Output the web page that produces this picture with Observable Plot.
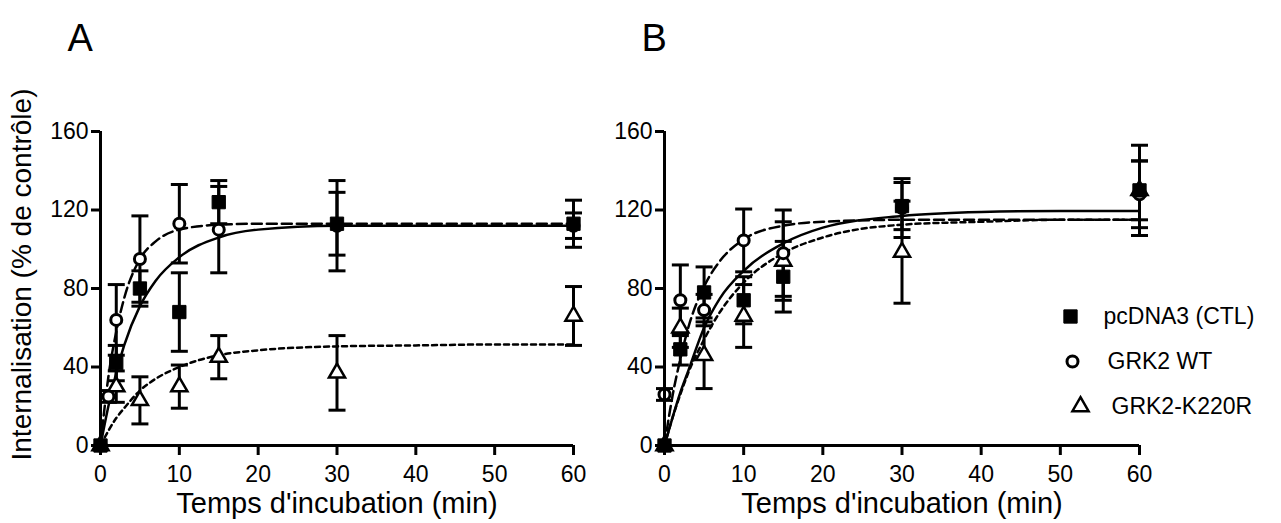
<!DOCTYPE html>
<html><head><meta charset="utf-8">
<script src="https://cdn.jsdelivr.net/npm/d3@7"></script>
<script src="https://cdn.jsdelivr.net/npm/@observablehq/plot@0.6"></script>
<style>
body{margin:0;background:#fff;}
#wrap{position:relative;width:1281px;height:523px;overflow:hidden;background:#fff;font-family:"Liberation Sans",Arial,sans-serif;}
.panel{position:absolute;top:0;}
.panel svg{display:block;overflow:visible;background:transparent;}
</style></head><body><div id="wrap"><div id="pa" class="panel" style="left:0px"></div><div id="pb" class="panel" style="left:610px"></div></div>
<script>
// ---- labels ----
const seriesNames = ["pcDNA3 (CTL)", "GRK2 WT", "GRK2-K220R"];
const xTicks = [0, 10, 20, 30, 40, 50, 60];
const yTicks = [0, 40, 80, 120, 160];
const xTitle = "Temps d'incubation (min)";
const yTitle = "Internalisation (% de contrôle)";
const panelLetters = ["A", "B"];

// ---- panel A data (mean, SEM) ----
const tA_ctl = [0, 2, 5, 10, 15, 30, 60];
const mA_ctl = [0, 42, 80, 68, 124, 113, 113];
const sA_ctl = [0, 9, 9, 20, 11, 16, 12];
const tA_wt = [0, 1, 2, 5, 10, 15, 30, 60];
const mA_wt = [0, 25, 64, 95, 113, 110, 112, 112];
const sA_wt = [0, 3, 18, 22, 20, 22, 23, 6.5];
const tA_k = [0, 2, 5, 10, 15, 30, 60];
const mA_k = [0, 30, 23, 30, 45, 37, 66];
const sA_k = [0, 8, 12, 11, 11, 19, 15];

// ---- panel B data (mean, SEM) ----
const tB_ctl = [0, 2, 5, 10, 15, 30, 60];
const mB_ctl = [0, 49, 78, 74, 86, 122, 130];
const sB_ctl = [0, 8, 13, 12, 18, 12, 23];
const tB_wt = [0, 2, 5, 10, 15, 30, 60];
const mB_wt = [26, 74, 69, 104.5, 98, 121, 128];
const sB_wt = [3, 18, 8, 16, 22, 15, 17];
const tB_k = [0, 2, 5, 10, 15, 30, 60];
const mB_k = [0, 60, 46, 66, 94, 98.5, 130];
const sB_k = [0, 10, 17, 16, 20, 26, 15];

// ---- fitted curves ----
const fitT = [0, 1, 2, 3, 5, 7, 10, 15, 20, 30, 40, 50, 60];
const fitA_ctl = [0, 20, 37, 51, 71, 84, 96, 106, 110, 112, 112, 112, 112];
const fitA_wt = [0, 35, 58, 75, 95, 104, 110, 112.5, 113, 113, 113, 113, 113];
const fitA_k = [0, 7.5, 14, 19, 28, 34, 40, 46, 48.5, 50.5, 51, 51.5, 51.5];
const fitB_ctl = [0, 14, 27, 38, 60, 75, 89, 103, 111, 117, 119, 119.5, 119.5];
const fitB_wt = [0, 25, 44, 60, 81, 94, 105, 112, 114, 115, 115, 115, 115];
const fitB_k = [0, 14, 26, 37, 54, 68, 83, 98, 106, 112.5, 114, 115, 115];

const FONT = "'Liberation Sans', Arial, sans-serif";
const capSymbol = {draw(context, size) { const w = Math.sqrt(size / Math.PI); context.moveTo(-w, 0); context.lineTo(w, 0); }};
const rows = (t, m, s) => t.map((ti, i) => ({t: ti, m: m[i], s: s[i]}));
const curveRows = v => fitT.map((t, i) => ({t, v: v[i]}));
const dashes = [null, "10,5", "5,4"];
const markStyle = [
  {symbol: "square", r: 7.5, fill: "black", stroke: "black", strokeWidth: 1},
  {symbol: "circle", r: 5.5, fill: "white", stroke: "black", strokeWidth: 3},
  {symbol: "triangle", r: 6, fill: "white", stroke: "black", strokeWidth: 2.5}
];

function errMarks(data) {
  const d = data.filter(r => r.s > 0);
  return [
    Plot.ruleX(d, {x: "t", y1: r => r.m - r.s, y2: r => r.m + r.s, stroke: "black", strokeWidth: 3}),
    Plot.dot(d, {x: "t", y: r => r.m + r.s, symbol: capSymbol, r: 8.5, stroke: "black", strokeWidth: 3, fill: "none"}),
    Plot.dot(d, {x: "t", y: r => r.m - r.s, symbol: capSymbol, r: 8.5, stroke: "black", strokeWidth: 3, fill: "none"})
  ];
}

function panel({width, marginLeft, marginRight, series, fits, letter, letterDx, showYTitle, legend}) {
  const marks = [];
  fits.forEach((f, i) => marks.push(Plot.line(curveRows(f), {x: "t", y: "v", curve: "monotone-x", stroke: "black", strokeWidth: 2.5, strokeDasharray: dashes[i]})));
  series.forEach(s => marks.push(...errMarks(s)));
  [2, 1, 0].forEach(i => marks.push(Plot.dot(series[i], {x: "t", y: "m", ...markStyle[i]})));
  marks.push(
    Plot.axisY({ticks: yTicks, tickSize: 9, tickPadding: 3, fontSize: 23, strokeWidth: 3, label: null}),
    Plot.axisX({ticks: xTicks, tickSize: 10, tickPadding: 10, fontSize: 23, strokeWidth: 3, label: null}),
    Plot.ruleX([0], {strokeWidth: 3}),
    Plot.ruleY([0], {strokeWidth: 3}),
    Plot.text([xTitle], {text: d => d, frameAnchor: "bottom", lineAnchor: "middle", textAnchor: "middle", dy: 58, fontSize: 29}),
    Plot.text([letter], {text: d => d, frameAnchor: "top-left", textAnchor: "start", lineAnchor: "bottom", dx: letterDx, dy: -81, fontSize: 38})
  );
  if (showYTitle) marks.push(Plot.text([yTitle], {text: d => d, frameAnchor: "left", textAnchor: "middle", lineAnchor: "middle", rotate: -90, dx: -78, dy: -14, fontSize: 28}));
  if (legend) {
    const pos = [[-69, 185, -36], [-67, 230, -32], [-59, 275, -28]];
    seriesNames.forEach((name, i) => {
      marks.push(Plot.dot([name], {frameAnchor: "top-right", dx: pos[i][0], dy: pos[i][1], ...markStyle[i]}));
      marks.push(Plot.text([name], {text: d => d, frameAnchor: "top-right", textAnchor: "start", lineAnchor: "middle", dx: pos[i][2], dy: pos[i][1], fontSize: 23}));
    });
  }
  return Plot.plot({
    width, height: 523, marginLeft, marginRight, marginTop: 131, marginBottom: 78,
    x: {domain: [0, 60]}, y: {domain: [0, 160]},
    style: {fontFamily: FONT, color: "black", background: "transparent", overflow: "visible"},
    marks
  });
}

document.getElementById("pa").append(panel({
  width: 620, marginLeft: 100, marginRight: 47,
  series: [rows(tA_ctl, mA_ctl, sA_ctl), rows(tA_wt, mA_wt, sA_wt), rows(tA_k, mA_k, sA_k)],
  fits: [fitA_ctl, fitA_wt, fitA_k], letter: panelLetters[0], letterDx: -33, showYTitle: true, legend: false
}));
document.getElementById("pb").append(panel({
  width: 671, marginLeft: 54, marginRight: 142,
  series: [rows(tB_ctl, mB_ctl, sB_ctl), rows(tB_wt, mB_wt, sB_wt), rows(tB_k, mB_k, sB_k)],
  fits: [fitB_ctl, fitB_wt, fitB_k], letter: panelLetters[1], letterDx: -23, showYTitle: false, legend: true
}));
</script></body></html>
